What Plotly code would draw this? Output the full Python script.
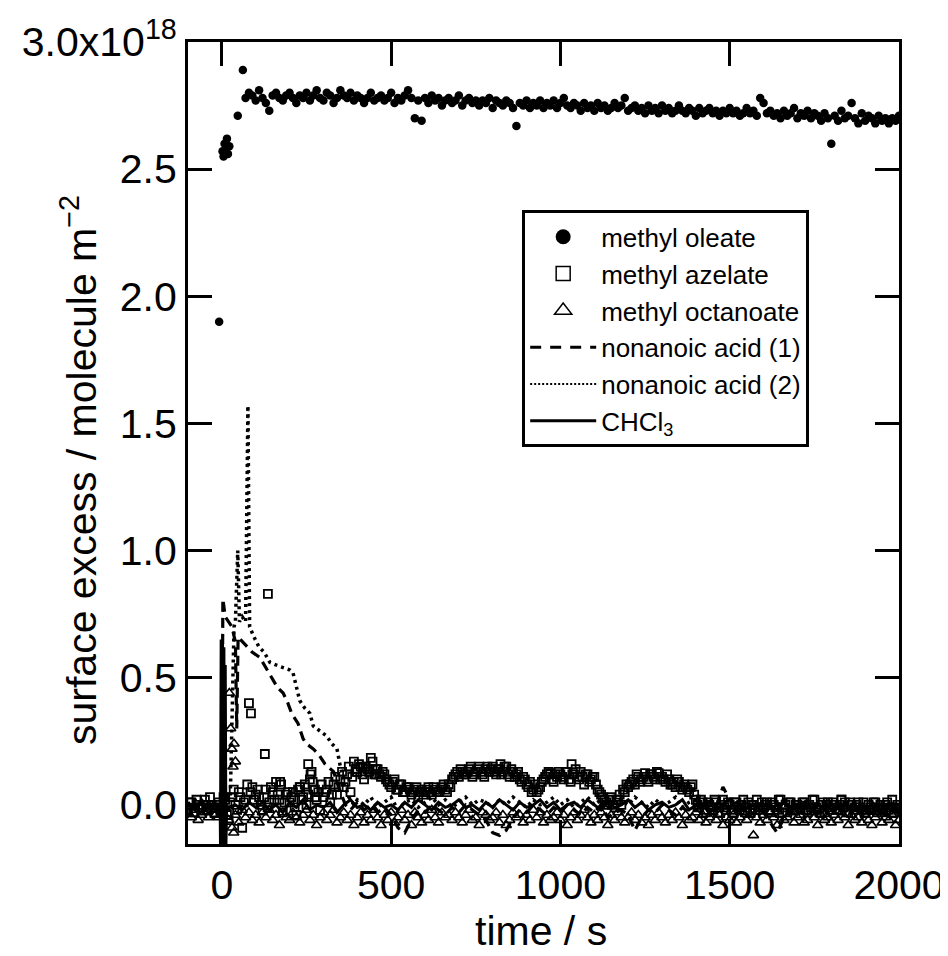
import plotly.graph_objects as go

# ---------------- data (surface excess in units of 1e18 molecule m^-2) ----------------
# methyl oleate (filled circles)
OLEATE_T = [-8, 2, 5, 8, 12, 15, 18, 22, 47, 62] + list(range(70, 2001, 10))
OLEATE_V = [1.90, 2.57, 2.55, 2.60, 2.58, 2.62, 2.56, 2.59, 2.71, 2.89,
    2.78, 2.80, 2.79, 2.77, 2.81, 2.78, 2.76, 2.73, 2.79, 2.80,
    2.78, 2.77, 2.79, 2.80, 2.78, 2.76, 2.79, 2.78, 2.80, 2.77,
    2.79, 2.81, 2.78, 2.77, 2.80, 2.79, 2.76, 2.78, 2.81, 2.79,
    2.78, 2.80, 2.77, 2.79, 2.78, 2.76, 2.78, 2.80, 2.77, 2.78,
    2.79, 2.77, 2.78, 2.80, 2.76, 2.78, 2.77, 2.79, 2.81, 2.78,
    2.70, 2.77, 2.69, 2.78, 2.76, 2.79, 2.77, 2.78, 2.75, 2.77,
    2.78, 2.76, 2.77, 2.79, 2.75, 2.77, 2.78, 2.76, 2.77, 2.75,
    2.77, 2.76, 2.78, 2.74, 2.77, 2.76, 2.75, 2.77, 2.76, 2.74,
    2.67, 2.76, 2.75, 2.77, 2.74, 2.76, 2.75, 2.77, 2.74, 2.76,
    2.75, 2.77, 2.74, 2.76, 2.78, 2.75, 2.74, 2.76, 2.75, 2.73,
    2.76, 2.74, 2.75, 2.73, 2.76, 2.74, 2.75, 2.73, 2.74, 2.76,
    2.74, 2.75, 2.78, 2.73, 2.74, 2.75, 2.73, 2.74, 2.72, 2.75,
    2.73, 2.74, 2.72, 2.75, 2.73, 2.74, 2.72, 2.73, 2.75, 2.73,
    2.72, 2.74, 2.73, 2.71, 2.74, 2.72, 2.73, 2.74, 2.72, 2.73,
    2.71, 2.73, 2.72, 2.74, 2.72, 2.73, 2.71, 2.72, 2.74, 2.72,
    2.73, 2.71, 2.78, 2.76, 2.72, 2.73, 2.71, 2.72, 2.70, 2.73,
    2.71, 2.72, 2.74, 2.70, 2.72, 2.71, 2.73, 2.70, 2.72, 2.71,
    2.69, 2.72, 2.70, 2.60, 2.71, 2.69, 2.73, 2.70, 2.71, 2.76,
    2.70, 2.68, 2.72, 2.69, 2.71, 2.70, 2.68, 2.71, 2.69, 2.70,
    2.68, 2.70, 2.69, 2.71]

# methyl azelate (open squares): two interleaved sample sets plus scattered extra points
AZELATE_T = list(range(-100, 2001, 10))
AZELATE_V = [
    -0.02, 0.01, -0.03, 0.00, -0.01, 0.02, -0.02, 0.00, -0.03, 0.01,
    -0.01, 0.02, -0.06, 0.03, 0.00, 0.05, -0.09, 0.02, 0.40, 0.07,
    0.04, 0.03, -0.02, 0.06, 0.01, 0.05, 0.09, 0.02, -0.03, 0.04,
    0.01, 0.05, -0.04, 0.07, 0.03, 0.00, 0.10, 0.06, 0.02, -0.02,
    0.03, 0.06, 0.01, 0.08, 0.04, 0.10, 0.07, 0.12, 0.05, 0.17,
    0.13, 0.15, 0.10, 0.14, 0.185, 0.12, 0.14, 0.11, 0.12, 0.09,
    0.07, 0.10, 0.06, 0.08, 0.05, 0.07, 0.04, 0.06, 0.03, 0.06,
    0.05, 0.07, 0.04, 0.06, 0.05, 0.07, 0.06, 0.08, 0.10, 0.12,
    0.11, 0.13, 0.12, 0.14, 0.11, 0.13, 0.15, 0.12, 0.14, 0.13,
    0.15, 0.12, 0.14, 0.13, 0.15, 0.11, 0.13, 0.12, 0.10, 0.11,
    0.08, 0.09, 0.06, 0.05, 0.07, 0.10, 0.12, 0.125, 0.09, 0.11,
    0.12, 0.10, 0.13, 0.09, 0.12, 0.11, 0.13, 0.08, 0.12, 0.10,
    0.11, 0.06, 0.04, 0.02, 0.00, 0.03, -0.01, 0.02, 0.00, 0.05,
    0.07, 0.09, 0.08, 0.11, 0.10, 0.125, 0.09, 0.12, 0.10, 0.125,
    0.11, 0.09, 0.10, 0.08, 0.07, 0.09, 0.06, 0.07, 0.05, 0.08,
    0.02, -0.01, 0.01, -0.03, 0.00, -0.02, 0.01, -0.01, 0.02, -0.02,
    0.00, -0.03, 0.01, -0.02, 0.02, -0.01, -0.03, 0.00, 0.02, -0.02,
    -0.01, 0.01, -0.03, 0.00, -0.02, 0.02, -0.01, -0.03, 0.01, -0.02,
    0.00, -0.02, 0.01, -0.03, -0.01, 0.02, -0.02, 0.00, -0.03, 0.01,
    -0.01, 0.00, -0.02, 0.02, 0.01, -0.03, 0.00, -0.01, 0.01, -0.02,
    -0.03, 0.00, -0.02, 0.01, -0.01, -0.03, 0.00, -0.02, 0.02, -0.01,
    -0.02]
AZELATE_T2 = list(range(-95, 2000, 10))
AZELATE_V2 = [
    0.01, -0.03, 0.02, -0.01, 0.00, -0.02, 0.03, -0.01, 0.00, -0.02,
    0.03, -0.04, 0.01, 0.06, -0.02, 0.03, 0.01, 0.08, 0.05, 0.02,
    0.06, 0.00, 0.03, -0.01, 0.07, 0.02, 0.04, 0.08, 0.01, 0.05,
    0.03, -0.01, 0.06, 0.02, 0.08, 0.04, 0.13, 0.03, 0.05, 0.08,
    0.05, 0.09, 0.04, 0.11, 0.07, 0.13, 0.09, 0.15, 0.11, 0.14,
    0.16, 0.12, 0.15, 0.13, 0.17, 0.14, 0.12, 0.13, 0.10, 0.08,
    0.09, 0.06, 0.08, 0.05, 0.07, 0.06, 0.05, 0.07, 0.05, 0.04,
    0.06, 0.05, 0.07, 0.05, 0.06, 0.08, 0.05, 0.07, 0.11, 0.13,
    0.14, 0.12, 0.13, 0.15, 0.12, 0.14, 0.13, 0.11, 0.15, 0.14,
    0.13, 0.14, 0.12, 0.15, 0.12, 0.14, 0.11, 0.13, 0.09, 0.10,
    0.07, 0.05, 0.08, 0.06, 0.09, 0.11, 0.13, 0.10, 0.12, 0.13,
    0.11, 0.13, 0.10, 0.12, 0.14, 0.10, 0.11, 0.12, 0.09, 0.11,
    0.08, 0.05, 0.03, 0.01, 0.02, 0.00, 0.02, 0.04, 0.06, 0.08,
    0.08, 0.10, 0.12, 0.09, 0.11, 0.10, 0.12, 0.11, 0.13, 0.10,
    0.10, 0.12, 0.08, 0.09, 0.10, 0.07, 0.08, 0.06, 0.07, 0.04,
    0.00, 0.02, -0.02, 0.01, -0.01, 0.02, -0.03, 0.00, -0.01, 0.01,
    -0.02, 0.01, -0.01, 0.00, -0.03, 0.01, 0.00, -0.02, -0.01, 0.01,
    0.00, -0.02, 0.01, -0.01, 0.02, -0.03, 0.00, 0.01, -0.02, 0.00,
    -0.01, 0.01, -0.02, 0.00, 0.02, -0.01, -0.03, 0.01, 0.00, -0.02,
    0.01, -0.02, 0.00, -0.01, -0.03, 0.01, -0.02, 0.00, -0.01, 0.01,
    -0.02, -0.01, 0.01, -0.03, 0.00, -0.02, 0.01, -0.01, -0.03, 0.00]
AZELATE_EXTRA_T = [86, 127, 136, 172, 231, 255, 262, 268, 275, 398, 416, 445, 455, 823, 1033, 1830]
AZELATE_EXTRA_V = [0.36, 0.20, 0.83, 0.09, 0.07, 0.16, 0.12, 0.09, 0.06, 0.13, 0.145, 0.14, 0.12, 0.16, 0.16, 0.02]

# methyl octanoate (open triangles)
OCTANOATE_T = list(range(-100, 2001, 10))
OCTANOATE_V = [
    -0.03, -0.05, -0.02, -0.06, -0.04, -0.03, -0.05, -0.02, -0.04, -0.05,
    -0.03, -0.01, -0.06, -0.09, -0.04, -0.07, -0.02, -0.05, -0.03, -0.06,
    -0.04, -0.07, -0.03, -0.05, -0.02, -0.06, -0.04, -0.08, -0.03, -0.05,
    -0.06, -0.03, -0.05, -0.07, -0.04, -0.02, -0.06, -0.04, -0.08, -0.05,
    -0.03, -0.06, -0.04, -0.02, -0.07, -0.05, -0.03, -0.06, -0.04, -0.08,
    -0.05, -0.03, -0.07, -0.04, -0.06, -0.02, -0.05, -0.08, -0.04, -0.06,
    -0.03, -0.07, -0.05, -0.02, -0.06, -0.04, -0.08, -0.03, -0.05, -0.07,
    -0.04, -0.06, -0.02, -0.05, -0.07, -0.03, -0.05, -0.04, -0.06, -0.03,
    -0.05, -0.07, -0.04, -0.02, -0.06, -0.05, -0.08, -0.03, -0.04, -0.06,
    -0.05, -0.03, -0.07, -0.04, -0.08, -0.06, -0.03, -0.05, -0.04, -0.07,
    -0.04, -0.06, -0.02, -0.05, -0.03, -0.07, -0.04, -0.06, -0.05, -0.03,
    -0.06, -0.04, -0.08, -0.05, -0.03, -0.06, -0.04, -0.02, -0.05, -0.07,
    -0.04, -0.06, -0.03, -0.05, -0.08, -0.04, -0.06, -0.03, -0.05, -0.07,
    -0.05, -0.03, -0.06, -0.04, -0.07, -0.05, -0.08, -0.04, -0.06, -0.03,
    -0.05, -0.07, -0.04, -0.06, -0.03, -0.05, -0.08, -0.04, -0.06, -0.05,
    -0.03, -0.06, -0.04, -0.07, -0.05, -0.03, -0.06, -0.04, -0.08, -0.05,
    -0.06, -0.04, -0.07, -0.05, -0.03, -0.06, -0.04, -0.12, -0.05, -0.07,
    -0.04, -0.06, -0.03, -0.05, -0.08, -0.04, -0.06, -0.05, -0.03, -0.07,
    -0.05, -0.04, -0.07, -0.06, -0.03, -0.05, -0.08, -0.04, -0.06, -0.05,
    -0.07, -0.04, -0.06, -0.03, -0.05, -0.08, -0.04, -0.06, -0.05, -0.07,
    -0.04, -0.06, -0.08, -0.05, -0.03, -0.07, -0.05, -0.06, -0.04, -0.08,
    -0.06]
OCTANOATE_EXTRA_T = [22, 26, 30, 33, 36, 40, 35]
OCTANOATE_EXTRA_V = [0.44, 0.30, 0.22, 0.15, 0.24, 0.17, -0.11]

# nonanoic acid (1) (dashed line)
NA1_T = [-100, -80, -60, -40, -20, -5, 0, 3, 10, 20, 30, 40, 44, 48, 55, 70, 90, 112, 130,
         147, 165, 181, 195, 206, 225, 240, 250, 270, 285, 305, 330, 350, 365, 380] + list(range(400, 2001, 20))
NA1_V = [0.01, -0.02, 0.02, -0.01, 0.01, 0.00, 0.02, 0.81, 0.74, 0.72, 0.70, 0.64, 0.30, 0.66,
         0.65, 0.63, 0.60, 0.58, 0.54, 0.50, 0.46, 0.44, 0.40, 0.36, 0.32, 0.26, 0.24, 0.22,
         0.20, 0.16, 0.13, 0.05, 0.00, -0.02,
         0.01, -0.02, 0.00, -0.03, -0.01, -0.04, -0.09, -0.11, -0.06, -0.02,
         -0.03, 0.00, -0.02, -0.04, -0.01, -0.03, 0.00, -0.02, -0.04, -0.06,
         -0.11, -0.12, -0.10, -0.05, -0.02, -0.03, 0.00, -0.02, -0.04, -0.01,
         -0.03, 0.00, -0.02, -0.04, -0.01, -0.03, 0.00, -0.05, -0.03, -0.02,
         -0.04, -0.10, -0.05, -0.02, -0.03, 0.00, -0.02, -0.04, -0.01, -0.03,
         -0.02, 0.00, -0.03, -0.01, 0.07, 0.02, -0.03, -0.01, -0.04, -0.02,
         -0.03, -0.07, -0.11, -0.05, -0.02, -0.04, -0.01, -0.03, 0.00, -0.02,
         -0.04, -0.01, -0.03, 0.00, -0.02, -0.05, -0.03, -0.01, -0.04, -0.02,
         -0.03]

# nonanoic acid (2) (dotted line)
NA2_T = [-100, -80, -60, -40, -20, -5, 10, 25, 36, 40, 47, 52, 60, 70, 77, 82, 95, 110, 125,
         142, 160, 180, 201, 210, 220, 230, 245, 260, 270, 290, 310, 325, 340, 350, 362, 375,
         390] + list(range(400, 2001, 20))
NA2_V = [0.00, 0.02, -0.01, 0.01, -0.02, 0.01, 0.00, 0.03, 0.70, 0.72, 1.00, 0.72, 0.74, 0.72,
         1.57, 0.70, 0.66, 0.62, 0.60, 0.56, 0.55, 0.54, 0.53, 0.52, 0.47, 0.41, 0.38, 0.36,
         0.31, 0.29, 0.27, 0.24, 0.22, 0.15, 0.08, 0.03, 0.00,
         0.02, 0.00, 0.03, -0.01, 0.01, 0.03, -0.02, 0.01, 0.02, -0.01,
         0.01, 0.03, 0.00, 0.02, -0.01, 0.01, 0.03, 0.00, 0.02, 0.01,
         -0.01, 0.02, 0.00, 0.03, 0.01, -0.01, 0.02, 0.00, 0.01, 0.03,
         0.00, 0.02, -0.01, 0.01, 0.03, 0.00, 0.02, -0.01, 0.01, 0.02,
         0.00, 0.03, 0.01, -0.01, 0.02, 0.00, 0.01, 0.03, -0.01, 0.01,
         0.02, 0.00, 0.01, -0.02, 0.00, 0.02, -0.01, 0.01, 0.00, -0.02,
         0.01, -0.01, 0.00, 0.02, -0.02, 0.00, 0.01, -0.01, 0.00, -0.02,
         0.00, -0.01, 0.01, -0.02, 0.00, -0.01, 0.01, -0.02, -0.01, 0.00,
         -0.01]

# CHCl3 (solid line)
CHCL3_T = [-100, -80, -60, -40, -20, -10, -5, -4, -2, 0, 2, 4, 6, 8, 10, 12, 14, 20, 40, 60, 80] + list(range(100, 2001, 20))
CHCL3_V = [0.00, -0.02, 0.01, -0.01, 0.00, -0.02, 0.00, -0.16, 0.65, -0.16, 0.64, -0.16, 0.62,
           -0.16, 0.55, -0.16, -0.02, -0.01, 0.00, -0.02, 0.01,
           -0.01, 0.01, -0.02, 0.00, -0.03, 0.01, -0.01, 0.02, -0.02, 0.00,
           -0.01, 0.01, -0.03, 0.00, 0.02, -0.01, 0.00, -0.02, 0.01, -0.01,
           0.00, -0.02, 0.01, -0.01, 0.02, 0.00, -0.02, 0.01, -0.01, 0.00,
           0.02, -0.01, 0.00, -0.02, 0.01, -0.01, 0.02, 0.00, -0.02, 0.01,
           -0.01, 0.00, 0.02, -0.01, 0.01, -0.02, 0.00, 0.01, -0.01, 0.02,
           0.00, -0.02, 0.01, -0.01, 0.00, 0.02, -0.01, 0.01, -0.02, 0.00,
           0.01, -0.01, 0.00, 0.02, -0.02, 0.00, -0.01, 0.01, -0.02, 0.00,
           -0.01, 0.01, -0.02, 0.00, -0.01, -0.03, 0.00, -0.02, 0.01, -0.01,
           -0.02, 0.00, -0.01, -0.03, 0.00, -0.02, -0.01, 0.00, -0.03, -0.01,
           -0.02, 0.00, -0.03, -0.01, -0.02,
           -0.01]

Y_TICKS = [0.0, 0.5, 1.0, 1.5, 2.0, 2.5, 3.0]
Y_TICKTEXT = ["0.0", "0.5", "1.0", "1.5", "2.0", "2.5", "3.0x10<sup>18</sup>"]
X_TICKS = [0, 500, 1000, 1500, 2000]

FONT = "Liberation Sans, Arial, sans-serif"
BLACK = "black"

fig = go.Figure()

# lines
fig.add_trace(go.Scatter(x=CHCL3_T, y=CHCL3_V, mode="lines", showlegend=False,
                         line=dict(color=BLACK, width=3)))
fig.add_trace(go.Scatter(x=NA1_T, y=NA1_V, mode="lines", showlegend=False,
                         line=dict(color=BLACK, width=3.2, dash="10px,6px")))
fig.add_trace(go.Scatter(x=NA2_T, y=NA2_V, mode="lines", showlegend=False,
                         line=dict(color=BLACK, width=3.5, dash="3px,4px")))
# markers
fig.add_trace(go.Scatter(x=OCTANOATE_T + OCTANOATE_EXTRA_T, y=OCTANOATE_V + OCTANOATE_EXTRA_V,
                         mode="markers", showlegend=False,
                         marker=dict(symbol="triangle-up-open", size=9, color=BLACK, line=dict(width=1.6))))
fig.add_trace(go.Scatter(x=AZELATE_T + AZELATE_T2 + AZELATE_EXTRA_T,
                         y=AZELATE_V + AZELATE_V2 + AZELATE_EXTRA_V,
                         mode="markers", showlegend=False,
                         marker=dict(symbol="square-open", size=8, color=BLACK, line=dict(width=1.8))))
fig.add_trace(go.Scatter(x=OLEATE_T, y=OLEATE_V, mode="markers", showlegend=False,
                         marker=dict(symbol="circle", size=8.5, color=BLACK)))

# legend entries
fig.add_trace(go.Scatter(x=[None], y=[None], mode="markers", name="methyl oleate",
                         marker=dict(symbol="circle", size=15, color=BLACK)))
fig.add_trace(go.Scatter(x=[None], y=[None], mode="markers", name="methyl azelate",
                         marker=dict(symbol="square-open", size=14, color=BLACK, line=dict(width=1.5))))
fig.add_trace(go.Scatter(x=[None], y=[None], mode="markers", name="methyl octanoate",
                         marker=dict(symbol="triangle-up-open", size=15, color=BLACK, line=dict(width=1.5))))
fig.add_trace(go.Scatter(x=[None], y=[None], mode="lines", name="nonanoic acid (1)",
                         line=dict(color=BLACK, width=3, dash="11px,9px")))
fig.add_trace(go.Scatter(x=[None], y=[None], mode="lines", name="nonanoic acid (2)",
                         line=dict(color=BLACK, width=2, dash="2px,2px")))
fig.add_trace(go.Scatter(x=[None], y=[None], mode="lines", name="CHCl<sub>3</sub>",
                         line=dict(color=BLACK, width=3)))

# page body has an 8px margin, so the figure is 8px smaller than the window
fig.update_layout(
    width=940, height=948,
    margin=dict(l=180, r=49, t=34, b=112, autoexpand=False),
    paper_bgcolor="white", plot_bgcolor="white",
    font=dict(family=FONT, size=41, color=BLACK),
    showlegend=True,
    legend=dict(x=0.47, y=0.79, xanchor="left", yanchor="top",
                bordercolor=BLACK, borderwidth=3, bgcolor="white",
                font=dict(family=FONT, size=26, color=BLACK),
                tracegroupgap=0, itemwidth=66),
    annotations=[
        dict(text="surface excess / molecule m<sup>\u22122</sup>", textangle=-90,
             xref="paper", yref="paper", x=(79 - 188) / 711, y=(844 - 470) / 802,
             xanchor="center", yanchor="middle", showarrow=False,
             font=dict(family=FONT, size=41, color=BLACK)),
        dict(text="time / s", xref="paper", yref="paper",
             x=(541 - 188) / 711, y=(844 - 931) / 802,
             xanchor="center", yanchor="middle", showarrow=False,
             font=dict(family=FONT, size=41, color=BLACK)),
    ],
)
fig.update_xaxes(range=[-100, 2000], tickvals=X_TICKS, ticks="inside", ticklen=24, tickwidth=3,
                 tickcolor=BLACK, showline=True, linewidth=3, linecolor=BLACK, mirror="allticks",
                 showgrid=False, zeroline=False, ticklabelstandoff=3, automargin=False,
                 tickfont=dict(family=FONT, size=41))
fig.update_yaxes(range=[-0.154, 3.0], tickvals=Y_TICKS, ticktext=Y_TICKTEXT, ticks="inside",
                 ticklen=24, tickwidth=3, tickcolor=BLACK, showline=True, linewidth=3,
                 linecolor=BLACK, mirror="allticks", showgrid=False, zeroline=False,
                 ticklabelstandoff=0, automargin=False, tickfont=dict(family=FONT, size=41))

fig.write_html("out.html")
